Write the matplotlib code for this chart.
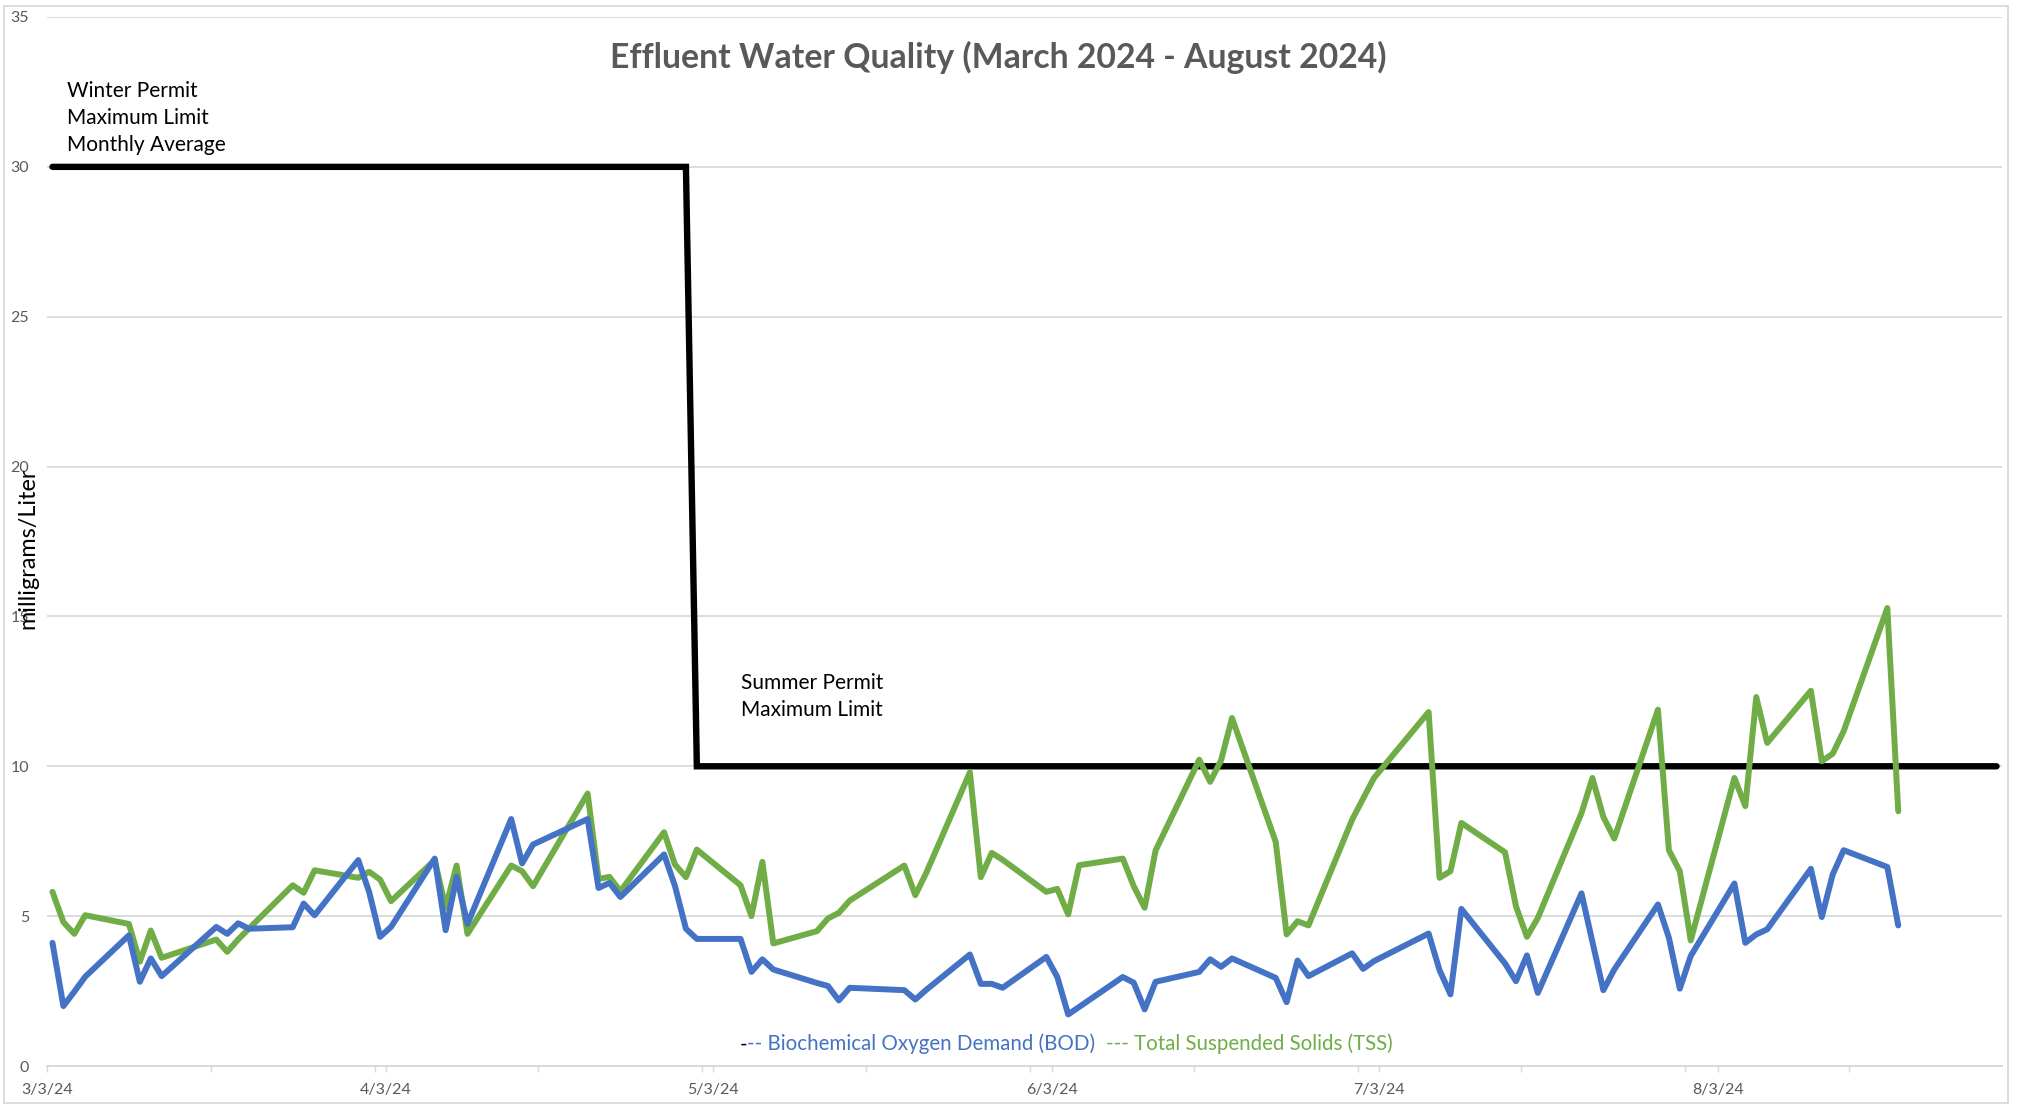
import numpy as np
import pandas as pd
import matplotlib
matplotlib.use('Agg')
import matplotlib.pyplot as plt
from matplotlib.offsetbox import TextArea, HPacker, AnchoredOffsetbox
from matplotlib.patches import Rectangle

plt.rcParams['font.family'] = ['Lato', 'DejaVu Sans']

# sampling dates (2024) and lab results in mg/L
sample_dates = ['3/3', '3/4', '3/5', '3/6', '3/10', '3/11', '3/12', '3/13',
                '3/18', '3/19', '3/20', '3/21', '3/25', '3/26', '3/27', '3/31',
                '4/1', '4/2', '4/3', '4/7', '4/8', '4/9', '4/10', '4/14',
                '4/15', '4/16', '4/21', '4/22', '4/23', '4/24', '4/28', '4/29',
                '4/30', '5/1', '5/5', '5/6', '5/7', '5/8', '5/12', '5/13',
                '5/14', '5/15', '5/20', '5/21', '5/22', '5/26', '5/27', '5/28',
                '5/29', '6/2', '6/3', '6/4', '6/5', '6/9', '6/10', '6/11',
                '6/12', '6/16', '6/17', '6/18', '6/19', '6/23', '6/24', '6/25',
                '6/26', '6/30', '7/1', '7/2', '7/7', '7/8', '7/9', '7/10',
                '7/14', '7/15', '7/16', '7/17', '7/21', '7/22', '7/23', '7/24',
                '7/28', '7/29', '7/30', '7/31', '8/4', '8/5', '8/6', '8/7',
                '8/11', '8/12', '8/13', '8/14', '8/18', '8/19']

bod = [4.11, 2.00, 2.48, 2.98, 4.36, 2.81, 3.59, 3.00,
       4.64, 4.41, 4.76, 4.58, 4.63, 5.42, 5.03, 6.87,
       5.80, 4.31, 4.64, 6.92, 4.53, 6.31, 4.74, 8.24,
       6.76, 7.39, 8.24, 5.94, 6.11, 5.64, 7.06, 6.00,
       4.58, 4.24, 4.24, 3.14, 3.56, 3.22, 2.77, 2.67,
       2.19, 2.61, 2.53, 2.22, 2.54, 3.72, 2.74, 2.74,
       2.61, 3.64, 2.97, 1.72, 1.97, 2.97, 2.78, 1.89,
       2.81, 3.14, 3.56, 3.31, 3.59, 2.94, 2.13, 3.52,
       3.00, 3.76, 3.24, 3.50, 4.42, 3.20, 2.39, 5.24,
       3.42, 2.83, 3.69, 2.44, 5.76, 4.14, 2.53, 3.22,
       5.39, 4.28, 2.58, 3.67, 6.09, 4.11, 4.39, 4.56,
       6.58, 4.97, 6.39, 7.20, 6.64, 4.69]

tss = [5.81, 4.80, 4.41, 5.03, 4.74, 3.48, 4.52, 3.61,
       4.22, 3.81, 4.22, 4.59, 6.03, 5.78, 6.53, 6.28,
       6.48, 6.22, 5.50, 6.87, 5.28, 6.69, 4.41, 6.69,
       6.50, 6.00, 9.09, 6.24, 6.31, 5.83, 7.80, 6.72,
       6.30, 7.22, 6.03, 5.00, 6.81, 4.09, 4.50, 4.92,
       5.11, 5.52, 6.69, 5.70, 6.44, 9.80, 6.30, 7.11,
       6.88, 5.81, 5.91, 5.06, 6.70, 6.92, 6.00, 5.28,
       7.19, 10.22, 9.48, 10.20, 11.61, 7.48, 4.39, 4.83,
       4.69, 8.22, 8.92, 9.61, 11.81, 6.28, 6.50, 8.11,
       7.13, 5.33, 4.31, 4.94, 8.44, 9.61, 8.31, 7.59,
       11.89, 7.20, 6.50, 4.19, 9.61, 8.67, 12.31, 10.78,
       12.52, 10.17, 10.42, 11.17, 15.28, 8.50]

# permit maximum limit: winter (monthly average) then summer
permit_dates = ['3/3', '4/30', '5/1', '8/28']
permit_limit = [30, 30, 10, 10]

tick_dates = ['3/3', '4/3', '5/3', '6/3', '7/3', '8/3']

BLUE = '#4472C4'
GREEN = '#70AD47'
GRID = '#D9D9D9'
TXT = '#595959'


def to_dt(days):
    return pd.to_datetime([d + '/2024' for d in days], format='%m/%d/%Y')


# points sit in the middle of each day
half = pd.Timedelta(hours=12)

W, H = 2021, 1106
fig = plt.figure(figsize=(W / 100, H / 100), dpi=100)
ax = fig.add_axes([47 / W, 1 - 1066 / H, (2002 - 47) / W, (1066 - 17) / H])

ax.plot(to_dt(permit_dates) + half, permit_limit, color='black', lw=4.6,
        solid_capstyle='round', solid_joinstyle='miter', zorder=3)
ax.plot(to_dt(sample_dates) + half, tss, color=GREEN, lw=4.3,
        solid_capstyle='round', zorder=4)
ax.plot(to_dt(sample_dates) + half, bod, color=BLUE, lw=4.3,
        solid_capstyle='round', zorder=5)

ax.set_ylim(0, 35)
ax.set_yticks(np.arange(0, 36, 5))
ax.set_xlim(pd.Timestamp('2024-03-03'), pd.Timestamp('2024-08-29'))

major = to_dt(tick_dates)
ax.set_xticks(major)
ax.set_xticklabels([f'{d.month}/{d.day}/24' for d in major])
ax.set_xticks(pd.date_range('2024-03-03', '2024-08-29', freq='15D'), minor=True)

ax.grid(axis='y', color=GRID, lw=1.3)
ax.set_axisbelow(True)
for s in ['top', 'right', 'left']:
    ax.spines[s].set_visible(False)
ax.spines['bottom'].set_color(GRID)
ax.spines['bottom'].set_linewidth(1.3)

ax.tick_params(axis='y', length=0, pad=13, labelsize=11.5, labelcolor=TXT)
ax.tick_params(axis='x', which='both', direction='out', length=4, width=1,
               color=GRID, pad=8, labelsize=11.5, labelcolor=TXT)

ax.text(pd.Timestamp('2024-03-04 20:00'), 32.85,
        'Winter Permit\nMaximum Limit\nMonthly Average',
        fontsize=15, va='top', ha='left', linespacing=1.42)
ax.text(pd.Timestamp('2024-05-05 12:00'), 13.1,
        'Summer Permit\nMaximum Limit',
        fontsize=15, va='top', ha='left', linespacing=1.42)

fig.text(998 / W, 1 - 57 / H, 'Effluent Water Quality (March 2024 - August 2024)',
         fontsize=24.3, fontweight='bold', color=TXT, ha='center', va='center')

fig.text(28 / W, 1 - 548 / H, 'milligrams/Liter', rotation=90,
         fontsize=16.8, ha='center', va='center')

# legend drawn as coloured text
parts = [TextArea('-', textprops=dict(color='black', fontsize=14.8)),
         TextArea('-- Biochemical Oxygen Demand (BOD)  ',
                  textprops=dict(color=BLUE, fontsize=14.8)),
         TextArea('--- Total Suspended Solids (TSS)',
                  textprops=dict(color=GREEN, fontsize=14.8))]
box = HPacker(children=parts, align='baseline', pad=0, sep=0)
leg = AnchoredOffsetbox(loc='center', child=box, pad=0, borderpad=0,
                        frameon=False, bbox_to_anchor=(1066 / W, 1 - 1044 / H),
                        bbox_transform=fig.transFigure)
fig.add_artist(leg)

fig.add_artist(Rectangle((4 / W, 3 / H), (2008 - 4) / W, (1103 - 6) / H,
                         transform=fig.transFigure, fill=False, ec=GRID, lw=1.3))

fig.savefig('out.png', dpi=100)
